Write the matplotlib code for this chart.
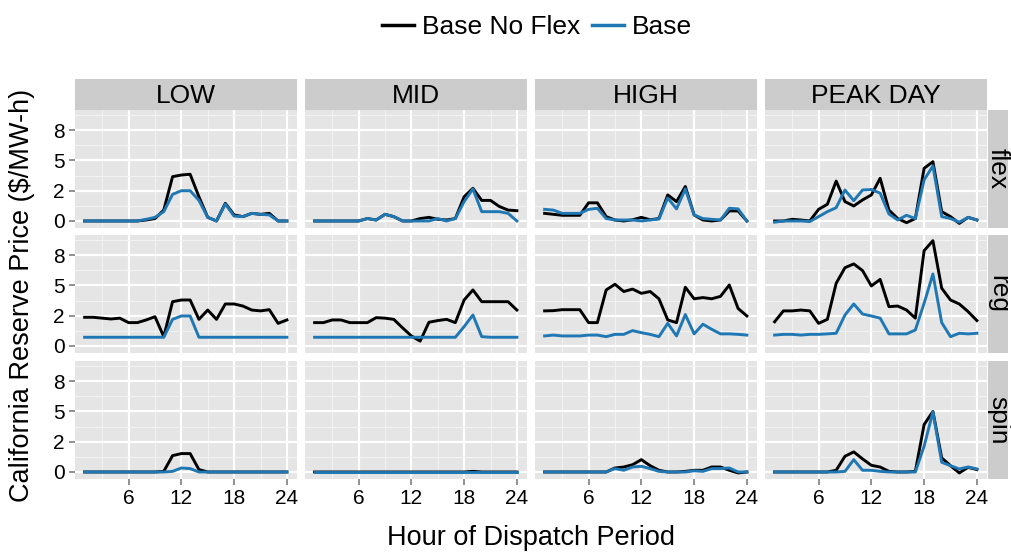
import numpy as np
import matplotlib
matplotlib.use('Agg')
import matplotlib.pyplot as plt
from matplotlib.lines import Line2D

plt.rcParams['font.family'] = ['Liberation Sans', 'DejaVu Sans']

hours = np.arange(1, 25)
cases = ['LOW', 'MID', 'HIGH', 'PEAK DAY']
products = ['flex', 'reg', 'spin']
series_names = ['Base No Flex', 'Base']
series_colors = ['black', '#1f78b4']

# flex
low_flex_noflex = [0, 0, 0, 0, 0, 0, 0, 0.08, 0.2, 0.9, 3.66, 3.8, 3.86, 2.0, 0.3, 0, 1.46, 0.5, 0.36, 0.63, 0.55, 0.63, 0, 0]
low_flex_base = [0, 0, 0, 0, 0, 0, 0, 0.14, 0.3, 0.77, 2.2, 2.5, 2.5, 1.7, 0.3, 0, 1.4, 0.4, 0.36, 0.63, 0.55, 0.5, 0, 0]
mid_flex_noflex = [0, 0, 0, 0, 0, 0, 0.2, 0.08, 0.55, 0.36, 0, 0, 0.2, 0.3, 0.14, 0.08, 0.2, 2.0, 2.7, 1.7, 1.7, 1.2, 0.9, 0.85]
mid_flex_base = [0, 0, 0, 0, 0, 0, 0.2, 0.08, 0.55, 0.36, 0, 0, 0, 0, 0.2, 0, 0.2, 1.6, 2.65, 0.77, 0.77, 0.77, 0.63, 0]
high_flex_noflex = [0.63, 0.55, 0.47, 0.47, 0.47, 1.5, 1.5, 0.36, 0.08, 0, 0.1, 0.3, 0.1, 0.2, 2.15, 1.6, 2.85, 0.5, 0.08, 0, 0.08, 0.83, 0.83, 0]
high_flex_base = [0.96, 0.9, 0.63, 0.63, 0.63, 0.96, 1.05, 0.2, 0.08, 0.08, 0.08, 0, 0.08, 0.16, 1.9, 1.0, 2.65, 0.5, 0.2, 0.14, 0.08, 1.05, 1.0, 0]
peak_flex_noflex = [0, 0, 0.14, 0.08, 0, 0.96, 1.38, 3.3, 1.6, 1.24, 1.74, 2.15, 3.53, 0.9, 0.2, -0.14, 0.2, 4.35, 4.9, 0.77, 0.36, -0.2, 0.3, 0.08]
peak_flex_base = [-0.1, 0, 0, 0, -0.05, 0.36, 0.77, 1.1, 2.56, 1.68, 2.56, 2.6, 2.3, 0.58, 0.08, 0.47, 0.2, 3.4, 4.55, 0.36, 0.2, -0.1, 0.3, 0.08]

# reg
low_reg_noflex = [2.37, 2.37, 2.3, 2.23, 2.3, 1.93, 1.93, 2.15, 2.42, 0.77, 3.66, 3.8, 3.8, 2.2, 2.97, 2.2, 3.47, 3.47, 3.3, 2.97, 2.9, 3.0, 1.87, 2.15]
low_reg_base = [0.72] * 10 + [2.2, 2.48, 2.48] + [0.72] * 11
mid_reg_noflex = [1.93, 1.93, 2.15, 2.15, 1.93, 1.93, 1.93, 2.34, 2.3, 2.2, 1.5, 0.83, 0.4, 1.96, 2.1, 2.2, 1.93, 3.8, 4.63, 3.66, 3.66, 3.66, 3.66, 2.97]
mid_reg_base = [0.72] * 17 + [1.6, 2.56, 0.77, 0.72, 0.72, 0.72, 0.72]
high_reg_noflex = [2.9, 2.92, 3.0, 3.0, 3.0, 1.93, 1.93, 4.63, 5.1, 4.5, 4.7, 4.35, 4.5, 3.9, 2.15, 1.93, 4.85, 3.9, 4.0, 3.9, 4.1, 5.04, 3.1, 2.48]
high_reg_base = [0.83, 0.9, 0.83, 0.83, 0.83, 0.9, 0.9, 0.77, 0.96, 0.96, 1.27, 1.1, 0.96, 0.77, 1.87, 0.83, 2.6, 1.0, 1.8, 1.38, 1.0, 1.0, 0.96, 0.9]
peak_reg_noflex = [2.0, 2.9, 2.9, 2.97, 2.9, 1.87, 2.2, 5.18, 6.47, 6.78, 6.23, 4.96, 5.5, 3.25, 3.3, 2.97, 2.3, 7.88, 8.7, 4.77, 3.8, 3.47, 2.84, 2.1]
peak_reg_base = [0.9, 0.96, 0.96, 0.9, 0.96, 0.96, 1.0, 1.05, 2.56, 3.47, 2.64, 2.48, 2.3, 1.0, 1.0, 1.0, 1.32, 3.53, 5.95, 1.93, 0.77, 1.05, 1.0, 1.05]

# spin
low_spin_noflex = [0] * 9 + [0.05, 1.35, 1.52, 1.52, 0.2] + [0] * 10
low_spin_base = [0] * 10 + [0.05, 0.33, 0.28] + [0] * 11
mid_spin_noflex = [0] * 18 + [0.05] + [0] * 5
mid_spin_base = [0] * 24
high_spin_noflex = [0, 0, 0, 0, 0, 0, 0, 0, 0.33, 0.41, 0.6, 1.02, 0.52, 0.14, 0, 0, 0.05, 0.14, 0.14, 0.41, 0.41, 0.14, -0.08, 0]
high_spin_base = [0, 0, 0, 0, 0, 0, 0, 0, 0.28, 0.14, 0.41, 0.47, 0.28, 0.05, 0, 0, 0, 0.1, 0.05, 0.28, 0.28, 0.33, 0, 0]
peak_spin_noflex = [0, 0, 0, 0, 0, 0, 0, 0.14, 1.3, 1.66, 1.08, 0.55, 0.41, 0.05, 0, 0, 0.05, 3.92, 5.0, 1.16, 0.52, -0.08, 0.39, 0.2]
peak_spin_base = [0, 0, 0, 0, 0, 0, 0, 0, 0.05, 1.02, 0.14, 0.14, 0.05, 0, 0, 0, 0, 2.13, 4.97, 0.8, 0.52, 0.25, 0.41, 0.25]

data = {
    ('flex', 'LOW'): (low_flex_noflex, low_flex_base),
    ('flex', 'MID'): (mid_flex_noflex, mid_flex_base),
    ('flex', 'HIGH'): (high_flex_noflex, high_flex_base),
    ('flex', 'PEAK DAY'): (peak_flex_noflex, peak_flex_base),
    ('reg', 'LOW'): (low_reg_noflex, low_reg_base),
    ('reg', 'MID'): (mid_reg_noflex, mid_reg_base),
    ('reg', 'HIGH'): (high_reg_noflex, high_reg_base),
    ('reg', 'PEAK DAY'): (peak_reg_noflex, peak_reg_base),
    ('spin', 'LOW'): (low_spin_noflex, low_spin_base),
    ('spin', 'MID'): (mid_spin_noflex, mid_spin_base),
    ('spin', 'HIGH'): (high_spin_noflex, high_spin_base),
    ('spin', 'PEAK DAY'): (peak_spin_noflex, peak_spin_base),
}

x_ticks = [6, 12, 18, 24]
y_ticks = [0, 2.5, 5, 7.5]
y_tick_labels = ['0', '2', '5', '8']

W, H = 1011, 556
fig = plt.figure(figsize=(W / 100, H / 100), dpi=100)

# layout in pixels
col_left = [74.5, 304.5, 534.5, 764.5]
col_w = 222.5
row_top = [110, 235, 361]
row_h = 118
strip_h = 31

def px(x0, y0, w, h):
    return [x0 / W, 1 - (y0 + h) / H, w / W, h / H]

for i, prod in enumerate(products):
    for j, case in enumerate(cases):
        ax = fig.add_axes(px(col_left[j], row_top[i], col_w, row_h))
        ax.set_facecolor('#e5e5e5')
        ax.set_xlim(-0.15, 25.15)
        ax.set_ylim(-0.58, 9.17)
        ax.set_xticks([3, 9, 15, 21], minor=True)
        ax.set_yticks([1.25, 3.75, 6.25, 8.75], minor=True)
        ax.set_xticks(x_ticks)
        ax.set_yticks(y_ticks)
        ax.grid(True, which='minor', color='#f2f2f2', lw=0.8)
        ax.grid(True, which='major', color='white', lw=1.6)
        ax.set_axisbelow(True)
        for s in ax.spines.values():
            s.set_visible(False)
        ax.tick_params(which='minor', length=0)
        ax.tick_params(which='major', length=4, width=1.2, color='#7f7f7f',
                       labelsize=15, pad=3)
        if j == 0:
            ax.set_yticklabels(y_tick_labels)
        else:
            ax.tick_params(axis='y', length=0, labelleft=False)
        if i == len(products) - 1:
            ax.set_xticklabels([str(t) for t in x_ticks])
        else:
            ax.tick_params(axis='x', length=0, labelbottom=False)

        noflex, base = data[(prod, case)]
        ax.plot(hours, noflex, color=series_colors[0], lw=2.1, solid_joinstyle='round')
        ax.plot(hours, base, color=series_colors[1], lw=2.1, solid_joinstyle='round')

        if i == 0:
            sax = fig.add_axes(px(col_left[j], row_top[0] - strip_h, col_w, strip_h))
            sax.set_facecolor('#cccccc')
            sax.set_xticks([])
            sax.set_yticks([])
            for s in sax.spines.values():
                s.set_visible(False)
            sax.text(0.5, 0.45, case, ha='center', va='center', fontsize=19,
                     transform=sax.transAxes)
        if j == len(cases) - 1:
            rax = fig.add_axes(px(col_left[j] + col_w + 1, row_top[i], 20, row_h))
            rax.set_facecolor('#cccccc')
            rax.set_xticks([])
            rax.set_yticks([])
            for s in rax.spines.values():
                s.set_visible(False)
            rax.text(0.5, 0.5, prod, ha='center', va='center', fontsize=19,
                     rotation=-90, transform=rax.transAxes)

fig.text(531 / W, 1 - 538 / H, 'Hour of Dispatch Period', ha='center', va='center',
         fontsize=19.5)
fig.text(22 / W, 1 - 295 / H, 'California Reserve Price ($/MW-h)', ha='center',
         va='center', rotation=90, fontsize=19.5)

handles = [Line2D([], [], color=c, lw=2.5) for c in series_colors]
fig.legend(handles, series_names, loc='center', bbox_to_anchor=(537 / W, 1 - 27 / H),
           ncol=2, frameon=False, fontsize=19, handlelength=1.2, handletextpad=0.3,
           columnspacing=0.45)

fig.savefig('out.png', dpi=100)
